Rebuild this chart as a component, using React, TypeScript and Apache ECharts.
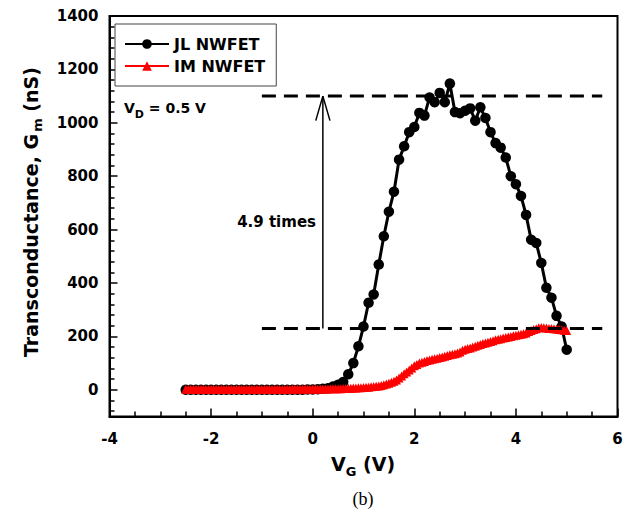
import React, { useEffect, useRef } from "react";
import * as echarts from "echarts";

// ---- data ----
const VG_START = -2.5;
const JL_STEP = 0.1;
const IM_STEP = 0.05;

// JL NWFET transconductance (nS), V_G from -2.5 V to 5.0 V in 0.1 V steps
const JL_GM = [
  0, 0, 0, 0, 0, 0, 0, 0, 0, 0, 0, 0, 0, 0, 0, 0, 0, 0, 0, 0, 0, 0, 0, 0, 1,
  1, 2, 4, 6, 12, 19, 29, 58, 100, 163,
  237, 326, 357, 469, 575, 667, 742, 862, 912, 965,
  984, 1037, 1027, 1095, 1077, 1112, 1077, 1147, 1040, 1036,
  1045, 1054, 1008, 1058, 1018, 965, 924, 907, 870, 800,
  770, 726, 655, 562, 550, 475, 382, 345, 277, 237,
  150,
];

// IM NWFET transconductance (nS), V_G from -2.5 V to 5.0 V in 0.05 V steps
const IM_GM = [
  2, 2, 2, 2, 2, 2, 2, 2, 2, 2,
  2, 2, 2, 2, 2, 2, 2, 2, 2, 2,
  2, 2, 2, 2, 2, 2, 2, 2, 2, 2,
  2, 2, 2, 2, 2, 2, 2, 2, 2, 2,
  2, 2, 3, 3, 3, 3, 3, 3, 3, 3,
  3, 3, 3, 3, 3, 3, 3, 4, 4, 4,
  4, 4, 5, 5, 6, 6, 7, 7, 8, 8,
  9, 10, 10, 11, 12, 13, 14, 16, 19, 22,
  25, 28, 32, 37, 44, 52, 60, 67, 74, 82,
  90,
  95, 100, 103, 106, 110, 112, 114, 116, 118, 121,
  123, 126, 128, 131, 133, 135, 138, 142, 148, 152,
  155, 157, 160, 163, 167, 170, 173, 175, 178, 181,
  184, 187, 189, 191, 194, 196, 198, 200, 202, 204,
  206, 208, 210, 213, 218, 222, 226, 229, 232, 233,
  232, 231, 230, 230, 229, 228, 226, 225, 223, 222,
];

const SERIES_NAMES = ["JL NWFET", "IM NWFET"];
const Y_TICK_VALUES = [0, 200, 400, 600, 800, 1000, 1200, 1400];
const Y_MINOR_STEP = 40;
const X_MIN = -4;
const X_MAX = 6;
const X_INTERVAL = 2;
const Y_MIN = -100;
const Y_MAX = 1400;

// annotation reference levels
const JL_PEAK_LEVEL = 1100;
const IM_PEAK_LEVEL = 230;
const REF_LINE_X = [-1.0, 5.7];
const ARROW_X = 0.2;
const ARROW_HEAD_DX = 0.14;
const ARROW_HEAD_DY = 92;

const SANS = '"DejaVu Sans", sans-serif';

function boldText(text: string, x: number, y: number, size: number, align = "left") {
  return {
    type: "text",
    x,
    y,
    silent: true,
    style: {
      text,
      font: `bold ${size}px ${SANS}`,
      fill: "#000",
      align,
      textAlign: align,
      verticalAlign: "middle",
      textVerticalAlign: "middle",
    },
  };
}

export default function App() {
  const ref = useRef<HTMLDivElement>(null);

  useEffect(() => {
    if (!ref.current) return;
    const chart = echarts.init(ref.current, null, { renderer: "svg" });

    const jlData = JL_GM.map((v, i) => [+(VG_START + i * JL_STEP).toFixed(2), v]);
    const imData = IM_GM.map((v, i) => [+(VG_START + i * IM_STEP).toFixed(2), v]);

    const yMinor: number[] = [];
    for (let v = Y_MIN + 20; v <= Y_MAX; v += Y_MINOR_STEP) {
      if (v % 200 !== 0) yMinor.push(v);
    }

    const axisLabelStyle = {
      color: "#000",
      fontFamily: SANS,
      fontWeight: "bold" as const,
      fontSize: 15,
      formatter: (v: number) => String(v),
    };

    const refLine = (level: number) => ({
      type: "line",
      data: [
        [REF_LINE_X[0], level],
        [REF_LINE_X[1], level],
      ],
      symbol: "none",
      silent: true,
      z: 5,
      lineStyle: { color: "#000", width: 3, type: [14, 8] },
    });

    const option: any = {
      animation: false,
      backgroundColor: "#fff",
      grid: {
        left: 109.5,
        right: 18.5,
        top: 16,
        bottom: 93.5,
        show: true,
        borderColor: "#000",
        borderWidth: 2,
        outerBoundsMode: "none",
        containLabel: false,
      },
      legend: {
        data: SERIES_NAMES,
        orient: "vertical",
        left: 115,
        top: 24,
        padding: [12, 11, 12, 9],
        itemWidth: 44,
        itemHeight: 12,
        itemGap: 6,
        borderColor: "#444",
        borderWidth: 1,
        backgroundColor: "#fff",
        textStyle: {
          color: "#000",
          fontFamily: SANS,
          fontWeight: "bold",
          fontSize: 16,
          lineHeight: 16,
        },
      },
      xAxis: {
        type: "value",
        min: X_MIN,
        max: X_MAX,
        interval: X_INTERVAL,
        axisLine: { show: true, onZero: false, lineStyle: { color: "#000", width: 2 } },
        axisTick: { show: true, inside: true, length: 8, lineStyle: { color: "#000", width: 1.5 } },
        minorTick: { show: true, splitNumber: 4, length: 5, lineStyle: { color: "#000", width: 1.5 } },
        axisLabel: { ...axisLabelStyle, margin: 15 },
        splitLine: { show: false },
        minorSplitLine: { show: false },
      },
      yAxis: [
        {
          type: "value",
          min: Y_MIN,
          max: Y_MAX,
          position: "left",
          axisLine: { show: true, onZero: false, lineStyle: { color: "#000", width: 2 } },
          axisTick: {
            show: true,
            inside: true,
            length: 8,
            customValues: Y_TICK_VALUES,
            lineStyle: { color: "#000", width: 1.5 },
          },
          axisLabel: { ...axisLabelStyle, margin: 11, customValues: Y_TICK_VALUES },
          splitLine: { show: false },
        },
        {
          type: "value",
          min: Y_MIN,
          max: Y_MAX,
          position: "left",
          offset: 0,
          axisLine: { show: false, onZero: false },
          axisTick: {
            show: true,
            inside: true,
            length: 5,
            customValues: yMinor,
            lineStyle: { color: "#000", width: 1.5 },
          },
          axisLabel: { show: false },
          splitLine: { show: false },
        },
      ],
      series: [
        {
          name: SERIES_NAMES[0],
          type: "line",
          data: jlData,
          symbol: "circle",
          symbolSize: 10.5,
          showAllSymbol: true,
          color: "#000",
          itemStyle: { color: "#000" },
          lineStyle: { color: "#000", width: 3 },
          z: 2,
        },
        {
          name: SERIES_NAMES[1],
          type: "line",
          data: imData,
          symbol: "triangle",
          symbolSize: 9,
          showAllSymbol: true,
          color: "#ff0000",
          itemStyle: { color: "#ff0000" },
          lineStyle: { color: "#ff0000", width: 3 },
          z: 3,
        },
        refLine(JL_PEAK_LEVEL),
        refLine(IM_PEAK_LEVEL),
        {
          type: "line",
          data: [
            [ARROW_X, IM_PEAK_LEVEL],
            [ARROW_X, JL_PEAK_LEVEL],
          ],
          symbol: "none",
          silent: true,
          z: 5,
          lineStyle: { color: "#000", width: 1.5 },
        },
        {
          type: "line",
          data: [
            [ARROW_X - ARROW_HEAD_DX, JL_PEAK_LEVEL - ARROW_HEAD_DY],
            [ARROW_X, JL_PEAK_LEVEL],
            [ARROW_X + ARROW_HEAD_DX, JL_PEAK_LEVEL - ARROW_HEAD_DY],
          ],
          symbol: "none",
          silent: true,
          z: 5,
          lineStyle: { color: "#000", width: 1.5 },
        },
      ],
      graphic: [
        // x axis name: V_G (V)
        boldText("V", 331, 464, 19),
        boldText("G", 345.7, 471, 13),
        boldText("(V)", 363, 464, 19),
        // y axis name: Transconductance, G_m (nS)
        {
          type: "group",
          x: 31,
          y: 212,
          rotation: Math.PI / 2,
          children: [
            boldText("Transconductance, G", -145, 0, 19),
            boldText("m", 80.2, 6, 13),
            boldText("(nS)", 100.3, 0, 19),
          ],
        },
        // V_D = 0.5 V
        boldText("V", 124, 108, 14),
        boldText("D", 134.8, 114, 11),
        boldText("= 0.5 V", 148.8, 108, 14),
        // 4.9 times
        boldText("4.9 times", 316, 222, 15, "right"),
        // caption
        {
          type: "text",
          x: 363,
          y: 499,
          silent: true,
          style: {
            text: "(b)",
            font: '18px "Liberation Serif", serif',
            fill: "#000",
            align: "center",
            textAlign: "center",
            verticalAlign: "middle",
            textVerticalAlign: "middle",
          },
        },
      ],
    };

    chart.setOption(option);
    return () => chart.dispose();
  }, []);

  return (
    <div
      ref={ref}
      style={{ position: "fixed", left: 0, top: 0, width: 636, height: 510, background: "#fff" }}
    />
  );
}
